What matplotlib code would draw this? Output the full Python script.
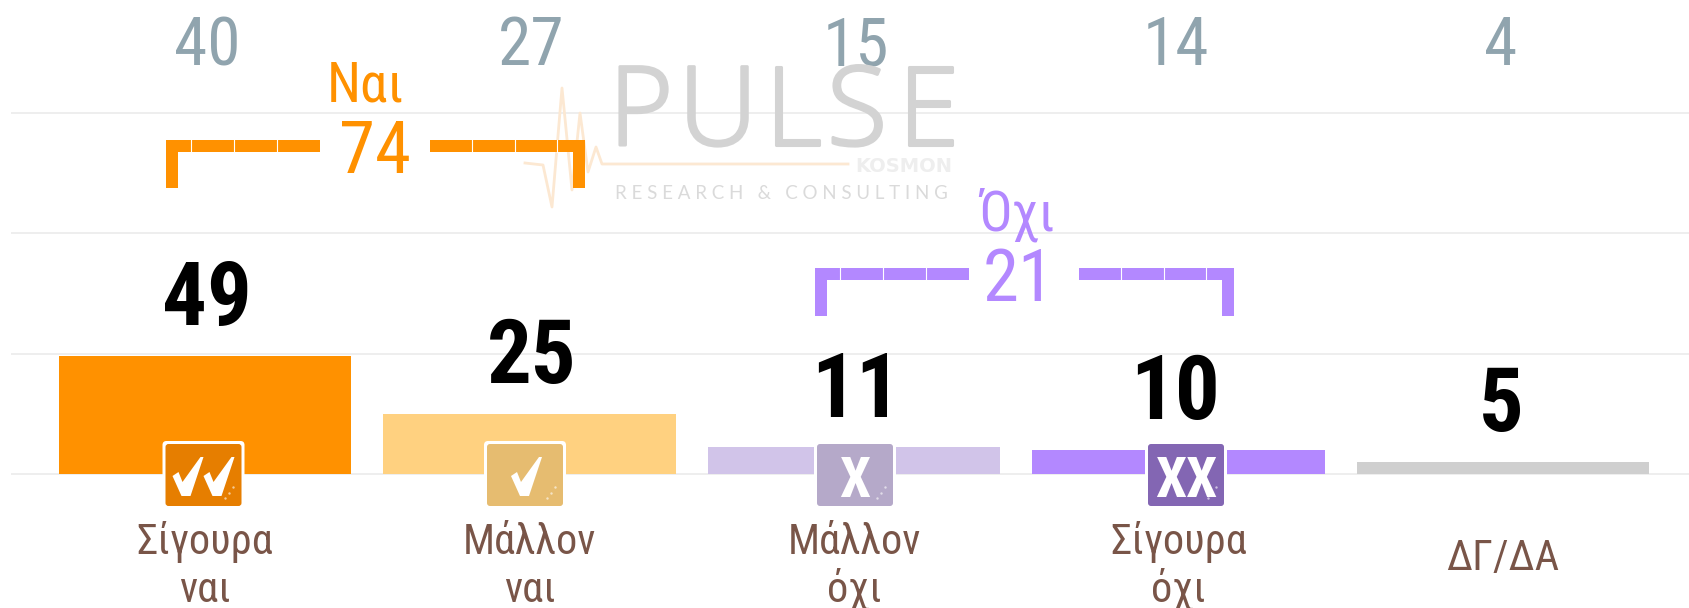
import matplotlib
matplotlib.use("Agg")
import matplotlib.pyplot as plt
import matplotlib.patheffects as pe
from matplotlib.patches import FancyBboxPatch, Polygon, Rectangle

# data
categories = [["Σίγουρα", "ναι"], ["Μάλλον", "ναι"], ["Μάλλον", "όχι"], ["Σίγουρα", "όχι"], ["ΔΓ/ΔΑ"]]
values = [49, 25, 11, 10, 5]
previous = [40, 27, 15, 14, 4]
bar_colors = ["#FF9100", "#FFD180", "#D1C4E9", "#B388FF", "#CFCFCF"]
icon_colors = ["#E67E00", "#E6BC70", "#B5A9C9", "#8366B3"]
icon_marks = ["vv", "v", "X", "XX"]
icon_x = [203.5, 525, 855, 1186]
text_shift = [2, 2, 2, -3, -2]  # px, number labels sit a little off the bar centres
yes_label, yes_total = "Ναι", 74
no_label, no_total = "Όχι", 21

FONT = ["Roboto Condensed", "DejaVu Sans"]
ORANGE = "#FF9100"
PURPLE = "#B388FF"
BROWN = "#795548"
W, H = 1690, 608

fig = plt.figure(figsize=(W / 100, H / 100), dpi=100, facecolor="white")

# main axes, gridlines every 50 units, 2.41 px per unit
ax = fig.add_axes([11 / W, 0, (W - 11) / W, 1])
ax.set_xlim((11 - 205) / 324.5, (W - 205) / 324.5)
ax.set_ylim(-(H - 474) / 2.41, 474 / 2.41)
ax.set_yticks([0, 50, 100, 150])
ax.set_xticks([])
ax.tick_params(left=False, labelleft=False)
ax.grid(axis="y", color="#EEEEEE", lw=1.4)
ax.set_axisbelow(True)
for s in ax.spines.values():
    s.set_visible(False)

ax.bar(range(len(values)), values, width=0.9, color=bar_colors, zorder=2)

for i, v in enumerate(values):
    ax.annotate(str(v), (i, v), xytext=(text_shift[i] * 0.72, 22.3), textcoords="offset points",
                ha="center", va="baseline", fontsize=64, fontweight="bold",
                family=FONT, color="black", zorder=6)
for i, v in enumerate(previous):
    ax.text(i + text_shift[i] / 324.5, 169.7, str(v), ha="center", va="baseline", fontsize=48.5,
            family=FONT, color="#90A4AE", zorder=6)
for i, lines in enumerate(categories):
    if len(lines) == 2:
        ax.text(i, -33.2, lines[0], ha="center", va="baseline", fontsize=30.5, family=FONT, color=BROWN)
        ax.text(i, -53.1, lines[1], ha="center", va="baseline", fontsize=30.5, family=FONT, color=BROWN)
    else:
        ax.text(i, -39.8, lines[0], ha="center", va="baseline", fontsize=30.5, family=FONT, color=BROWN)

# overlay in pixels for logo, brackets and icons
ov = fig.add_axes([0, 0, 1, 1], facecolor="none")
ov.set_xlim(0, W)
ov.set_ylim(H, 0)
ov.axis("off")

# logo
pulse_x = [525, 543, 552, 562, 572, 580, 588, 596, 602, 848]
pulse_y = [163, 165, 207, 88, 190, 113, 172, 147, 164, 164]
ov.plot(pulse_x, pulse_y, color="#FCE8D2", lw=2, zorder=1)
for ch, x in zip("PULSE", [641, 718, 793, 857, 928]):
    ov.text(x, 145, ch, ha="center", va="baseline", fontsize=79, family="Open Sans",
            fontweight=300, stretch="normal", color="#D3D3D3", zorder=1,
            path_effects=[pe.withStroke(linewidth=2.2, foreground="#D3D3D3")])
ov.text(952, 172, "KOSMON", ha="right", va="baseline", fontsize=14, family="DejaVu Sans",
        fontweight="bold", color="#EEEEEE", zorder=1)
ov.text(615, 199, "R E S E A R C H   &   C O N S U L T I N G", ha="left", va="baseline",
        fontsize=13.5, family="Lato", color="#DADADA", zorder=1)


def bracket(x0, x1, gap0, gap1, top, bottom, color):
    t = 12
    ov.add_patch(Rectangle((x0, top), gap0 - x0, t, color=color, lw=0, zorder=3))
    ov.add_patch(Rectangle((gap1, top), x1 - gap1, t, color=color, lw=0, zorder=3))
    ov.add_patch(Rectangle((x0, top), t, bottom - top, color=color, lw=0, zorder=3))
    ov.add_patch(Rectangle((x1 - t, top), t, bottom - top, color=color, lw=0, zorder=3))
    # thin white cuts between the dashes
    for k in range(3):
        xa = gap0 - 43 * (k + 1)
        xb = gap1 + 42.5 * (k + 1)
        ov.plot([xa, xa], [top, top + t], color="white", lw=0.8, zorder=4)
        ov.plot([xb, xb], [top, top + t], color="white", lw=0.8, zorder=4)


bracket(166, 585, 320, 430, 140, 188, ORANGE)
bracket(815, 1234, 969, 1079, 268, 316, PURPLE)

ov.text(366, 101, yes_label, ha="center", va="baseline", fontsize=39.5, family=FONT, color=ORANGE, zorder=5)
ov.text(375, 173, str(yes_total), ha="center", va="baseline", fontsize=52.5, family=FONT, color=ORANGE, zorder=5)
ov.text(1017, 230, no_label, ha="center", va="baseline", fontsize=39.5, family=FONT, color=PURPLE, zorder=5)
ov.text(1019, 301, str(no_total), ha="center", va="baseline", fontsize=52.5, family=FONT, color=PURPLE, zorder=5)


def check(cx):
    # tick drawn around its centre, thick at the bottom, thin at the tip
    pts = [(-15, 0), (-9, -4), (-5, 6), (13, -19), (16, -19), (3, 20), (-6, 20)]
    ov.add_patch(Polygon([(cx + a, 476 + b) for a, b in pts], fc="white", ec="none", zorder=6))


# icons on the baseline
for x, col, mark in zip(icon_x, icon_colors, icon_marks):
    ov.add_patch(FancyBboxPatch((x - 41, 441), 82, 68, boxstyle="round,pad=0,rounding_size=4",
                                fc="white", ec="none", zorder=4.5))
    ov.add_patch(FancyBboxPatch((x - 38, 444), 76, 62, boxstyle="round,pad=0,rounding_size=3",
                                fc=col, ec="none", zorder=5))
    if mark == "vv":
        check(x - 16)
        check(x + 15)
    elif mark == "v":
        check(x + 1)
    else:
        ov.text(x, 497, mark, ha="center", va="baseline", fontsize=40,
                family=FONT, fontweight="bold", color="white", zorder=6)
    ov.scatter([x + 22, x + 26, x + 30], [498, 493, 487], s=3, color="white", alpha=0.6, lw=0, zorder=6)

fig.savefig("out.png", dpi=100)
